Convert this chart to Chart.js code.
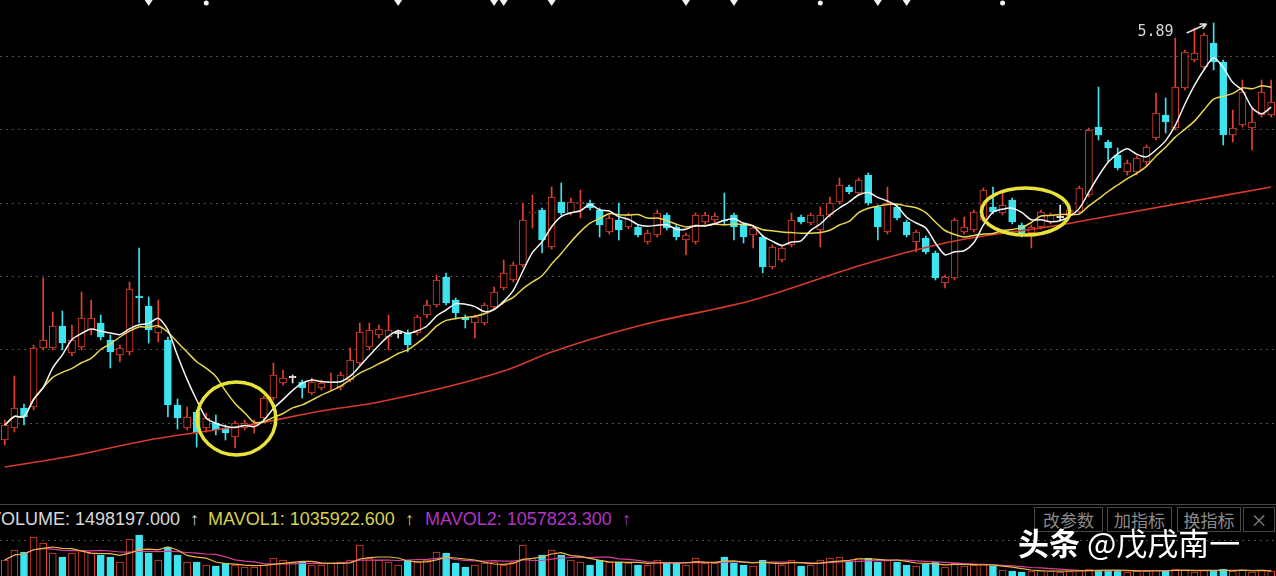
<!DOCTYPE html>
<html>
<head>
<meta charset="utf-8">
<script src="https://cdn.jsdelivr.net/npm/chart.js@4.4.0/dist/chart.umd.min.js"></script>
<style>
  html, body { margin: 0; padding: 0; background: #000; width: 1276px; height: 576px; overflow: hidden; }
  #price { position: absolute; left: 0; top: 0; }
  #volume { position: absolute; left: 0; top: 528px; }
  #sep { position: absolute; left: 0; top: 504px; width: 1276px; height: 1px; background: #474747; }
  .lbl { position: absolute; top: 508px; font: 18px "Liberation Sans", Arial, sans-serif; line-height: 22px; white-space: nowrap; }
  .btn { position: absolute; top: 507px; height: 23px; border: 1px solid #474747; color: #8a8a8a;
         font: 17px "Noto Sans CJK SC", sans-serif; line-height: 23px; text-align: center; }
  #mark { position: absolute; left: 1018px; top: 522px; color: #fff; font: 31px "Noto Sans CJK SC", sans-serif;
          line-height: 40px; white-space: nowrap; }
</style>
</head>
<body>
<canvas id="price" width="1276" height="503"></canvas>
<div id="sep"></div>
<div class="lbl" style="left:-11px;color:#d8d8d8">VOLUME: 1498197.000</div>
<div class="lbl" style="left:190px;color:#d8d8d8">↑</div>
<div class="lbl" style="left:208px;color:#d6d24c">MAVOL1: 1035922.600</div>
<div class="lbl" style="left:405px;color:#d6d24c">↑</div>
<div class="lbl" style="left:425px;color:#b533c4">MAVOL2: 1057823.300</div>
<div class="lbl" style="left:622px;color:#b533c4">↑</div>
<div class="btn" style="left:1034px;width:67px">改参数</div>
<div class="btn" style="left:1107px;width:63px">加指标</div>
<div class="btn" style="left:1177px;width:62px">换指标</div>
<div class="btn" style="left:1243px;width:30px">×</div>
<canvas id="volume" width="1276" height="48"></canvas>
<div id="mark"><b>头条</b> @戊戌南一</div>
<script>
//Daily prices
const open = [1.72,1.84,2.04,2.05,2.64,2.64,2.86,2.59,2.65,2.82, 2.89,2.72,2.57,2.60,3.16,3.06,2.79,2.72,2.07,1.84,
  2.00,1.84,1.89,1.84,1.75,1.84,1.86,1.94,2.14,2.29, 2.35,2.30,2.19,2.24,2.30,2.25,2.32,2.49,2.65,2.77,
  2.75,2.79,2.79,2.79,2.97,3.07,3.35,3.12,2.95,2.89, 2.89,3.05,3.24,3.32,3.47,3.99,4.02,3.65,4.10,3.99,
  4.09,4.09,4.02,3.80,3.92,3.85,3.85,3.70,3.77,3.97, 3.85,3.72,3.70,3.90,3.92,3.92,3.97,3.87,3.77,3.75,
  3.45,3.52,3.67,3.95,3.89,3.82,3.97,4.10,4.25,4.19, 4.37,4.05,3.80,4.05,3.90,3.70,3.74,3.59,3.29,3.34,
  3.80,3.82,3.92,4.05,3.99,4.12,3.87,3.79,3.85,3.90, 3.95,3.96,4.00,4.17,4.85,4.70,4.57,4.40,4.40,4.50,
  4.74,4.97,4.84,5.24,5.52,5.45,5.69,5.50,4.77,4.87, 4.84,4.97,4.97];
const close = [1.87,2.04,1.95,2.64,2.72,2.86,2.69,2.72,2.94,2.94, 2.75,2.60,2.64,3.23,3.14,2.82,2.85,2.07,1.94,1.95,
  1.79,1.94,1.82,1.79,1.89,1.89,1.88,2.14,2.37,2.34, 2.35,2.24,2.30,2.29,2.31,2.37,2.52,2.80,2.82,2.83,
  2.82,2.79,2.67,2.95,3.07,3.32,3.09,2.99,2.92,2.95, 3.07,3.20,3.39,3.47,3.92,4.00,3.72,4.15,3.99,4.10,
  4.10,4.04,3.87,3.94,3.82,3.97,3.77,3.79,3.99,3.84, 3.75,3.77,3.97,3.97,3.96,3.91,3.85,3.75,3.84,3.45,
  3.65,3.64,3.92,3.90,3.97,3.97,4.09,4.27,4.20,4.32, 4.09,3.85,4.09,3.94,3.77,3.80,3.60,3.34,3.35,3.92,
  3.85,4.00,4.22,4.00,4.07,3.90,3.79,3.85,4.00,3.97, 3.95,4.02,4.24,4.82,4.77,4.64,4.44,4.49,4.54,4.65,
  4.99,4.90,5.25,5.60,5.59,5.77,5.50,4.77,4.84,5.20, 4.90,5.20,5.10];
const high = [1.92,2.36,2.08,2.67,3.34,3.00,3.01,2.87,3.20,3.12, 2.97,2.77,2.67,3.30,3.64,3.15,3.12,2.75,2.13,2.05,
  2.02,1.99,1.97,1.87,1.91,1.92,1.92,2.16,2.49,2.42, 2.37,2.32,2.34,2.32,2.39,2.40,2.64,2.89,2.89,2.87,
  2.97,2.82,2.82,2.97,3.12,3.37,3.39,3.14,2.97,2.97, 3.09,3.25,3.52,3.50,4.09,4.17,4.04,4.25,4.29,4.14,
  4.22,4.12,4.04,3.97,4.09,3.99,3.87,3.82,4.02,3.99, 3.87,3.79,3.99,4.00,3.99,4.19,3.99,3.89,3.87,3.77,
  3.67,3.66,3.99,3.97,3.99,4.05,4.15,4.34,4.27,4.34, 4.39,4.07,4.25,4.07,3.92,3.82,3.76,3.61,3.37,3.94,
  3.95,4.02,4.24,4.25,4.20,4.14,3.89,3.87,4.02,3.99, 4.07,4.04,4.26,4.84,5.25,4.72,4.64,4.52,4.56,4.67,
  5.19,5.14,5.74,5.62,5.84,5.79,5.89,5.52,5.02,5.32, 5.04,5.32,5.32];
const low = [1.67,1.80,1.87,2.02,2.62,2.62,2.62,2.56,2.62,2.77, 2.72,2.44,2.50,2.57,2.89,2.69,2.70,1.95,1.83,1.82,
  1.65,1.80,1.77,1.72,1.64,1.82,1.79,1.92,2.12,2.27, 2.29,2.14,2.17,2.22,2.22,2.22,2.30,2.47,2.62,2.74,
  2.62,2.74,2.60,2.77,2.94,3.05,3.07,2.93,2.84,2.74, 2.87,3.03,3.22,3.30,3.45,3.84,3.59,3.63,3.97,3.97,
  3.94,4.02,3.75,3.78,3.72,3.83,3.75,3.68,3.75,3.82, 3.72,3.57,3.68,3.88,3.89,3.87,3.72,3.69,3.64,3.39,
  3.43,3.50,3.65,3.88,3.87,3.65,3.95,4.08,4.18,4.17, 4.07,3.72,3.78,3.92,3.75,3.60,3.58,3.32,3.24,3.32,
  3.78,3.80,3.90,3.98,3.97,3.88,3.75,3.64,3.83,3.88, 3.92,3.94,3.98,4.15,4.72,4.50,4.42,4.37,4.37,4.47,
  4.72,4.79,4.82,5.22,5.50,5.43,5.42,4.67,4.70,4.85, 4.62,4.95,4.95];
//Volume in thousands of shares
const volume = [1200,1600,1520,2120,1880,1480,1320,1480,1600,1480, 1400,1320,1120,2040,2200,1480,1200,1720,1400,1120,
  1120,1000,960,1080,1000,920,920,1000,1280,1200, 1120,1120,1000,1000,1080,1120,1200,1800,1280,1200,
  1120,1000,1200,1120,1200,1520,1480,1080,920,1000, 1080,1120,1000,1120,1800,1280,1400,1600,1400,1200,
  1120,1000,1200,1120,1120,1080,1000,1000,1200,1120, 1080,1000,1280,1080,1080,1320,1080,1000,960,1200,
  1120,1000,1200,960,1000,1200,1280,1320,1120,1280, 1280,1120,1200,1120,1000,960,1040,1120,920,1080,
  960,1000,1040,960,800,760,720,760,800,760, 720,760,800,840,800,760,800,720,760,760,
  800,760,840,800,720,800,760,840,760,800, 720,800,760];
//Long moving average (red line), read at a few days
const longMaDay = [0,7,15,26,33,39,52,57,66,78,90,99,110,114,132];
const longMaValue = [1.45,1.56,1.72,1.88,2.01,2.10,2.41,2.60,2.86,3.12,3.49,3.71,3.87,3.94,4.25];
//Dotted price levels
const priceLevels = [1.89,2.63,3.36,4.09,4.83,5.56];
//Event marks along the top edge
const eventDays = [15,41,51,52,57,71,76,91,94];
const noteDays = [21,85,104];

const days = open.map((_, i) => "D" + (i + 1));
const RED = "#e3402e";
const CYAN = "#3de4f0";
const WHITE = "#e6e6e6";
const candleColor = open.map((o, i) => close[i] > o ? RED : close[i] < o ? CYAN : WHITE);

//simple moving average, shorter window at the start
function movingAvg(src, n) {
  return src.map((_, i) => {
    const part = src.slice(Math.max(0, i - n + 1), i + 1);
    return part.reduce((a, b) => a + b, 0) / part.length;
  });
}

//dotted horizontal lines
const dottedGrid = {
  id: "dottedGrid",
  beforeDatasetsDraw(chart, args, opts) {
    const { ctx, chartArea, scales } = chart;
    ctx.save();
    ctx.strokeStyle = "#4e4e4e";
    ctx.lineWidth = 1;
    ctx.setLineDash([2, 4]);
    for (const v of opts.values) {
      const y = Math.round(scales.y.getPixelForValue(v)) + 0.5;
      ctx.beginPath();
      ctx.moveTo(chartArea.left, y);
      ctx.lineTo(chartArea.right, y);
      ctx.stroke();
    }
    ctx.restore();
  },
};

//yellow circles, the max price note and the top marks
const notes = {
  id: "notes",
  afterDatasetsDraw(chart) {
    const { ctx } = chart;
    const xs = chart.scales.x, ys = chart.scales.y;
    ctx.save();
    //circled areas (day, price, day radius, price radius)
    ctx.strokeStyle = "#e8e23a";
    ctx.lineWidth = 3.5;
    for (const c of [[24.15, 1.935, 4.1, 0.365], [106.4, 4.005, 4.6, 0.235]]) {
      const cx = xs.getPixelForValue(c[0]);
      const cy = ys.getPixelForValue(c[1]);
      const rx = xs.getPixelForValue(c[0] + c[2]) - cx;
      const ry = ys.getPixelForValue(c[1] - c[3]) - cy;
      ctx.beginPath();
      ctx.ellipse(cx, cy, rx, ry, 0, 0, Math.PI * 2);
      ctx.stroke();
    }
    //highest price label with arrow
    const top = Math.max(...high);
    const hi = high.indexOf(top);
    const hx = xs.getPixelForValue(hi), hy = ys.getPixelForValue(top);
    ctx.fillStyle = "#d6d6d6";
    ctx.font = "15px 'DejaVu Sans Mono', monospace";
    ctx.textAlign = "right";
    ctx.textBaseline = "middle";
    ctx.fillText(top.toFixed(2), hx - 40, hy + 9);
    ctx.strokeStyle = "#e0e0e0";
    ctx.lineWidth = 1.5;
    ctx.beginPath();
    ctx.moveTo(hx - 27, hy + 10);
    ctx.lineTo(hx - 7, hy + 1);
    ctx.moveTo(hx - 7, hy + 1);
    ctx.lineTo(hx - 14, hy + 1);
    ctx.moveTo(hx - 7, hy + 1);
    ctx.lineTo(hx - 11, hy + 6);
    ctx.stroke();
    //marks on the top edge
    ctx.fillStyle = "#f2f2f2";
    for (const d of eventDays) {
      const x = xs.getPixelForValue(d);
      ctx.beginPath();
      ctx.moveTo(x - 4, 0);
      ctx.lineTo(x + 4, 0);
      ctx.lineTo(x, 6);
      ctx.closePath();
      ctx.fill();
    }
    for (const d of noteDays) {
      const x = xs.getPixelForValue(d);
      ctx.beginPath();
      ctx.arc(x, 3, 2.5, 0, Math.PI * 2);
      ctx.fill();
    }
    ctx.restore();
  },
};

//Price chart
new Chart(document.getElementById("price"), {
  plugins: [dottedGrid, notes],
  data: {
    labels: days,
    datasets: [
      { type: "line", data: movingAvg(close, 5), borderColor: "#f4f4f4", borderWidth: 1.5, pointRadius: 0, tension: 0.25 },
      { type: "line", data: movingAvg(close, 10), borderColor: "#e6d650", borderWidth: 1.5, pointRadius: 0, tension: 0.25 },
      {
        type: "line",
        data: longMaDay.map((d, i) => ({ x: days[d], y: longMaValue[i] })),
        borderColor: "#d63a2c",
        borderWidth: 1.6,
        pointRadius: 0,
        cubicInterpolationMode: "monotone",
      },
      {
        type: "bar",
        data: open.map((o, i) => o === close[i] ? [o - 0.006, o + 0.006] : [o, close[i]]),
        backgroundColor: open.map((o, i) => close[i] > o ? "#000" : candleColor[i]),
        borderColor: candleColor,
        borderWidth: 1,
        borderSkipped: false,
        barThickness: 7,
        grouped: false,
      },
      {
        type: "bar",
        data: low.map((l, i) => [l, high[i]]),
        backgroundColor: candleColor,
        borderWidth: 0,
        barThickness: 1,
        grouped: false,
      },
    ],
  },
  options: {
    responsive: false,
    devicePixelRatio: 1,
    animation: false,
    layout: { padding: 0 },
    scales: {
      x: { display: false, offset: true },
      y: { display: false, min: 1.09, max: 6.12 },
    },
    plugins: {
      legend: { display: false },
      tooltip: { enabled: false },
      dottedGrid: { values: priceLevels },
    },
  },
});

//Volume chart
new Chart(document.getElementById("volume"), {
  plugins: [dottedGrid],
  data: {
    labels: days,
    datasets: [
      { type: "line", data: movingAvg(volume, 5), borderColor: "#e8b848", borderWidth: 1.2, pointRadius: 0 },
      { type: "line", data: movingAvg(volume, 10), borderColor: "#d8409e", borderWidth: 1.2, pointRadius: 0 },
      {
        type: "bar",
        data: volume,
        backgroundColor: open.map((o, i) => close[i] >= o ? "#000" : CYAN),
        borderColor: open.map((o, i) => close[i] >= o ? RED : CYAN),
        borderWidth: 1,
        borderSkipped: false,
        barThickness: 7,
      },
    ],
  },
  options: {
    responsive: false,
    devicePixelRatio: 1,
    animation: false,
    layout: { padding: 0 },
    scales: {
      x: { display: false, offset: true },
      y: { display: false, min: 560, max: 2480 },
    },
    plugins: {
      legend: { display: false },
      tooltip: { enabled: false },
      dottedGrid: { values: [2000] },
    },
  },
});
</script>
</body>
</html>
